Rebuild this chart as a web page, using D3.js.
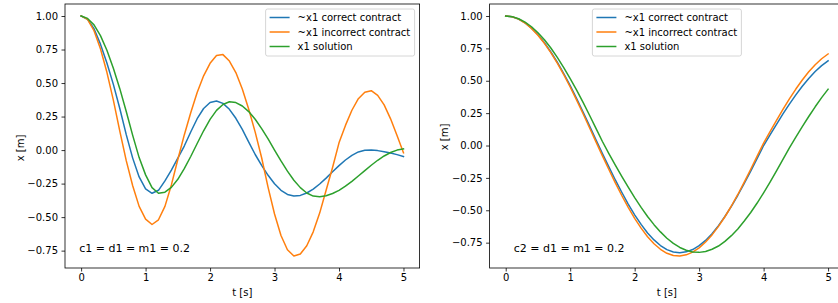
<!DOCTYPE html>
<html>
<head>
<meta charset="utf-8">
<script src="https://cdn.jsdelivr.net/npm/d3@7"></script>
<style>
  body { margin: 0; background: #fff; }
  svg { display: block; font-family: "DejaVu Sans", sans-serif; }
</style>
</head>
<body>
<div id="container"></div>
<script>
// temps (s)
const tValues = [0, 0.1, 0.2, 0.3, 0.4, 0.5, 0.6, 0.7, 0.8, 0.9,
  1.0, 1.1, 1.2, 1.3, 1.4, 1.5, 1.6, 1.7, 1.8, 1.9,
  2.0, 2.1, 2.2, 2.3, 2.4, 2.5, 2.6, 2.7, 2.8, 2.9,
  3.0, 3.1, 3.2, 3.3, 3.4, 3.5, 3.6, 3.7, 3.8, 3.9,
  4.0, 4.1, 4.2, 4.3, 4.4, 4.5, 4.6, 4.7, 4.8, 4.9, 5.0];

// panneau gauche : c1 = d1 = m1 = 0.2
const leftCorrect = [1.0, 0.975, 0.905, 0.79, 0.65, 0.49, 0.31, 0.115, -0.06, -0.2,
  -0.29, -0.322, -0.30, -0.23, -0.15, -0.06, 0.03, 0.135, 0.234, 0.31,
  0.355, 0.366, 0.348, 0.304, 0.237, 0.154, 0.06, -0.033, -0.114, -0.188,
  -0.251, -0.30, -0.331, -0.343, -0.338, -0.32, -0.291, -0.253, -0.209, -0.162,
  -0.116, -0.074, -0.039, -0.014, -0.002, 0.0, -0.004, -0.012, -0.022, -0.034, -0.048];
const leftIncorrect = [1.0, 0.975, 0.89, 0.756, 0.58, 0.372, 0.142, -0.079, -0.266, -0.42,
  -0.515, -0.555, -0.52, -0.42, -0.26, -0.07, 0.113, 0.279, 0.429, 0.554,
  0.647, 0.705, 0.712, 0.664, 0.578, 0.455, 0.304, 0.134, -0.057, -0.278,
  -0.477, -0.637, -0.743, -0.79, -0.775, -0.714, -0.61, -0.47, -0.30, -0.13,
  0.054, 0.184, 0.297, 0.383, 0.432, 0.443, 0.408, 0.337, 0.233, 0.108, -0.02];
const leftSolution = [1.0, 0.982, 0.934, 0.854, 0.745, 0.61, 0.458, 0.288, 0.11, -0.056,
  -0.185, -0.28, -0.322, -0.314, -0.278, -0.218, -0.139, -0.048, 0.049, 0.144,
  0.229, 0.296, 0.34, 0.36, 0.354, 0.329, 0.287, 0.23, 0.16, 0.083,
  0.0, -0.081, -0.157, -0.225, -0.28, -0.32, -0.343, -0.348, -0.34, -0.324,
  -0.30, -0.269, -0.233, -0.193, -0.153, -0.113, -0.076, -0.044, -0.018, 0.0, 0.009];

// panneau droit : c2 = d1 = m1 = 0.2
const rightCorrect = [1.0, 0.994, 0.976, 0.947, 0.906, 0.855, 0.794, 0.722, 0.643, 0.556,
  0.462, 0.362, 0.259, 0.152, 0.044, -0.062, -0.165, -0.266, -0.361, -0.452,
  -0.535, -0.609, -0.675, -0.729, -0.772, -0.804, -0.822, -0.827, -0.821, -0.803,
  -0.773, -0.733, -0.681, -0.619, -0.548, -0.47, -0.384, -0.293, -0.198, -0.099,
  0.0, 0.083, 0.164, 0.244, 0.32, 0.391, 0.458, 0.518, 0.571, 0.617, 0.654];
const rightIncorrect = [1.0, 0.994, 0.976, 0.946, 0.904, 0.852, 0.789, 0.717, 0.636, 0.547,
  0.452, 0.351, 0.245, 0.137, 0.028, -0.08, -0.185, -0.288, -0.386, -0.478,
  -0.562, -0.638, -0.704, -0.758, -0.801, -0.832, -0.849, -0.853, -0.844, -0.823,
  -0.79, -0.745, -0.69, -0.624, -0.55, -0.467, -0.378, -0.283, -0.183, -0.082,
  0.018, 0.107, 0.194, 0.279, 0.36, 0.436, 0.506, 0.569, 0.624, 0.67, 0.707];
const rightSolution = [1.0, 0.995, 0.979, 0.953, 0.917, 0.871, 0.816, 0.753, 0.681, 0.602,
  0.517, 0.428, 0.333, 0.234, 0.133, 0.031, -0.062, -0.151, -0.238, -0.322,
  -0.402, -0.478, -0.548, -0.611, -0.667, -0.716, -0.756, -0.787, -0.809, -0.822,
  -0.825, -0.818, -0.801, -0.776, -0.74, -0.696, -0.644, -0.583, -0.517, -0.444,
  -0.365, -0.282, -0.196, -0.107, -0.018, 0.065, 0.146, 0.224, 0.299, 0.37, 0.435];

const seriesLabels = ["~x1 correct contract", "~x1 incorrect contract", "x1 solution"];
const seriesColors = ["#1f77b4", "#ff7f0e", "#2ca02c"];
const xTicks = [0, 1, 2, 3, 4, 5];
const yTicks = [-0.75, -0.5, -0.25, 0, 0.25, 0.5, 0.75, 1.0];
const notes = ["c1 = d1 = m1 = 0.2", "c2 = d1 = m1 = 0.2"];

const main = (container) => {
  const W = 838, H = 303;
  const svg = d3.select(container).append("svg")
    .attr("width", W).attr("height", H);

  const panels = [
    { left: 65, series: [leftCorrect, leftIncorrect, leftSolution], note: notes[0], noteX: 0.04, yLabelY: 148, legend: "right" },
    { left: 489.6, series: [rightCorrect, rightIncorrect, rightSolution], note: notes[1], noteX: 0.068, yLabelY: 137, legend: "center" }
  ];
  const pw = 354.6, top = 4, bottom = 268;

  panels.forEach(p => {
    const g = svg.append("g");

    // marges 5% comme matplotlib
    const xMin = d3.min(tValues), xMax = d3.max(tValues);
    const xPad = (xMax - xMin) * 0.05;
    const x = d3.scaleLinear().domain([xMin - xPad, xMax + xPad]).range([p.left, p.left + pw]);
    const all = p.series.flat();
    const yMin = d3.min(all), yMax = d3.max(all);
    const yPad = (yMax - yMin) * 0.05;
    const y = d3.scaleLinear().domain([yMin - yPad, yMax + yPad]).range([bottom, top]);

    // courbes
    const line = d3.line().x((d, i) => x(tValues[i])).y(d => y(d));
    p.series.forEach((s, k) => {
      g.append("path")
        .datum(s)
        .attr("d", line)
        .attr("fill", "none")
        .attr("stroke", seriesColors[k])
        .attr("stroke-width", 1.5)
        .attr("stroke-linejoin", "round")
        .attr("stroke-linecap", "square");
    });

    // cadre
    g.append("rect")
      .attr("x", p.left).attr("y", top)
      .attr("width", pw).attr("height", bottom - top)
      .attr("fill", "none").attr("stroke", "#000").attr("stroke-width", 0.8);

    // axes
    const xAxis = g.append("g")
      .attr("transform", `translate(0,${bottom})`)
      .call(d3.axisBottom(x).tickValues(xTicks).tickFormat(d3.format("d")).tickSize(3.5).tickPadding(2));
    const yAxis = g.append("g")
      .attr("transform", `translate(${p.left},0)`)
      .call(d3.axisLeft(y).tickValues(yTicks).tickFormat(d3.format(".2f")).tickSize(3.5).tickPadding(3.5));
    [xAxis, yAxis].forEach(a => {
      a.select(".domain").remove();
      a.selectAll("line").attr("stroke", "#000").attr("stroke-width", 0.8);
      a.selectAll("text").attr("fill", "#000")
        .style("font-size", "10px").style("font-family", "DejaVu Sans, sans-serif");
    });

    // titres des axes
    g.append("text")
      .attr("x", p.left + pw / 2).attr("y", 296)
      .attr("text-anchor", "middle")
      .style("font-size", "10px")
      .text("t [s]");
    g.append("text")
      .attr("transform", `translate(${p.left - 45},${p.yLabelY}) rotate(-90)`)
      .attr("text-anchor", "middle")
      .attr("dy", "0.35em")
      .style("font-size", "10px")
      .text("x [m]");

    // annotation
    g.append("text")
      .attr("x", p.left + p.noteX * pw)
      .attr("y", 252)
      .style("font-size", "11px")
      .text(p.note);

    // légende
    const lw = 149, lh = 47;
    const lx = p.legend === "right" ? p.left + pw - 5 - lw : p.left + pw / 2 - lw / 2;
    const ly = top + 5;
    const legend = g.append("g").attr("transform", `translate(${lx},${ly})`);
    legend.append("rect")
      .attr("width", lw).attr("height", lh)
      .attr("rx", 2)
      .attr("fill", "rgba(255,255,255,0.8)")
      .attr("stroke", "#cccccc").attr("stroke-width", 0.8);
    const rows = legend.selectAll(".row")
      .data(seriesLabels)
      .enter().append("g")
      .attr("class", "row")
      .attr("transform", (d, i) => `translate(0,${8.5 + i * 14.5})`);
    rows.append("line")
      .attr("x1", 4).attr("x2", 24)
      .attr("stroke", (d, i) => seriesColors[i])
      .attr("stroke-width", 1.5);
    rows.append("text")
      .attr("x", 32).attr("dy", "0.35em")
      .style("font-size", "10px")
      .text(d => d);
  });
};

const container = document.getElementById("container");
main(container);
</script>
</body>
</html>
